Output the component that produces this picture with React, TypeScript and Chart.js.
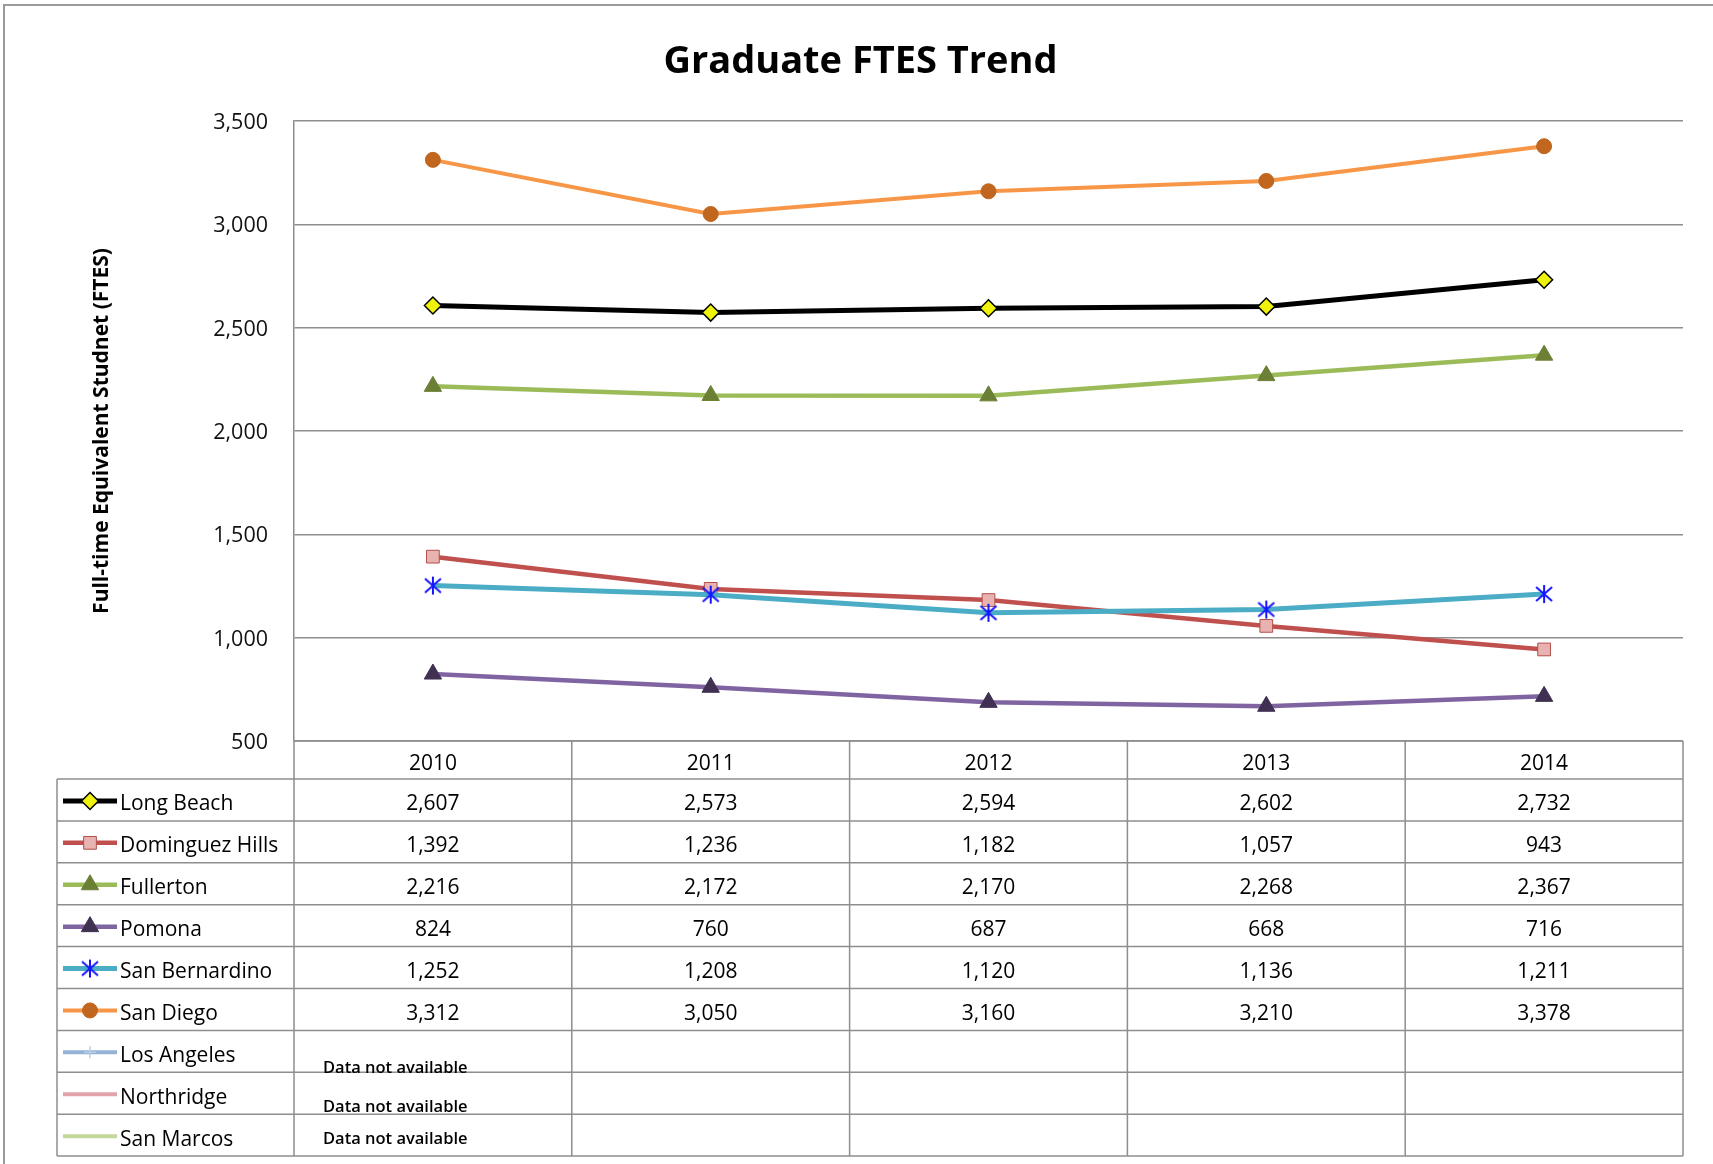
import React, { useEffect, useRef } from 'react';
import { Chart, registerables } from 'chart.js';
import * as helpers from 'chart.js/helpers';

Chart.register(...registerables);

// ---------------- data ----------------
const TITLE = 'Graduate FTES Trend';
const Y_TITLE = 'Full-time Equivalent Studnet (FTES)';
const YEARS = ['2010', '2011', '2012', '2013', '2014'];
const Y_MIN = 500;
const Y_MAX = 3500;
const Y_STEP = 500;

const LONG_BEACH = [2607, 2573, 2594, 2602, 2732];
const DOMINGUEZ_HILLS = [1392, 1236, 1182, 1057, 943];
const FULLERTON = [2216, 2172, 2170, 2268, 2367];
const POMONA = [824, 760, 687, 668, 716];
const SAN_BERNARDINO = [1252, 1208, 1120, 1136, 1211];
const SAN_DIEGO = [3312, 3050, 3160, 3210, 3378];
const LOS_ANGELES: (number | null)[] = [null, null, null, null, null];
const NORTHRIDGE: (number | null)[] = [null, null, null, null, null];
const SAN_MARCOS: (number | null)[] = [null, null, null, null, null];
const NOT_AVAILABLE = 'Data not available';

const SERIES_NAMES = [
  'Long Beach',
  'Dominguez Hills',
  'Fullerton',
  'Pomona',
  'San Bernardino',
  'San Diego',
  'Los Angeles',
  'Northridge',
  'San Marcos',
];
const SERIES_VALUES = [
  LONG_BEACH,
  DOMINGUEZ_HILLS,
  FULLERTON,
  POMONA,
  SAN_BERNARDINO,
  SAN_DIEGO,
  LOS_ANGELES,
  NORTHRIDGE,
  SAN_MARCOS,
];

// ---------------- layout & style ----------------
const W = 1713;
const H = 1164;
const FONT = 'Open Sans';
const GRID = '#8e8e8e';
const TEXT = '#000000';
const PAD_LEFT = 38;
const PLOT_LEFT = 294;
const PLOT_RIGHT = 1683;
const PLOT_BOTTOM = 741;
const TABLE_LEFT = 57;
const HEADER_H = 38;
const ROW_H = 41.9;
const SAMPLE_X0 = 63;
const SAMPLE_X1 = 117;
const SAMPLE_MARK_X = 90;
const LABEL_X = 120;
const NA_X = 323;
const NA_OFFSETS = [38, 35, 25]; // y offset of note within the row, rows without data

function makeStar(): HTMLCanvasElement {
  const c = document.createElement('canvas');
  c.width = 20;
  c.height = 20;
  const g = c.getContext('2d')!;
  g.strokeStyle = '#1515ff';
  g.lineWidth = 2;
  g.beginPath();
  g.moveTo(10, 1);
  g.lineTo(10, 19);
  g.moveTo(2, 3);
  g.lineTo(18, 17);
  g.moveTo(18, 3);
  g.lineTo(2, 17);
  g.stroke();
  return c;
}

function seriesStyles(star: HTMLCanvasElement) {
  return [
    { line: '#000000', width: 5, style: 'rectRot', radius: 8.5, fill: '#eef20c', stroke: '#000000', bw: 1.5 },
    { line: '#c0504d', width: 4.5, style: 'rect', radius: 9, fill: '#e8b2b0', stroke: '#b0504a', bw: 1 },
    { line: '#9bbb59', width: 4.5, style: 'triangle', radius: 10, fill: '#6b7f35', stroke: '#6b7f35', bw: 1 },
    { line: '#8064a2', width: 4.5, style: 'triangle', radius: 10, fill: '#403152', stroke: '#403152', bw: 1 },
    { line: '#4bacc6', width: 5, style: star as any, radius: 9, fill: '#1515ff', stroke: '#1515ff', bw: 2 },
    { line: '#f79646', width: 4, style: 'circle', radius: 7.5, fill: '#c0661f', stroke: '#c0661f', bw: 1 },
    { line: '#95b3d7', width: 4, style: 'cross', radius: 6, fill: '#b9cde5', stroke: '#b9cde5', bw: 1.5 },
    { line: '#e0a3a8', width: 4, style: 'circle', radius: 0, fill: '#e0a3a8', stroke: '#e0a3a8', bw: 0 },
    { line: '#c3d69b', width: 4, style: 'circle', radius: 0, fill: '#c3d69b', stroke: '#c3d69b', bw: 0 },
  ];
}

const fmt = (v: number | null) => (v == null ? '' : v.toLocaleString('en-US'));

const framePlugin = {
  id: 'frame',
  beforeDraw(chart: any) {
    const { ctx } = chart;
    ctx.save();
    ctx.fillStyle = '#ffffff';
    ctx.fillRect(0, 0, chart.width, chart.height);
    ctx.strokeStyle = '#9a9a9a';
    ctx.lineWidth = 2;
    ctx.beginPath();
    ctx.moveTo(4, H);
    ctx.lineTo(4, 5);
    ctx.lineTo(W, 5);
    ctx.stroke();
    ctx.restore();
  },
};

const tablePlugin = {
  id: 'dataTable',
  afterDraw(chart: any) {
    const { ctx, chartArea: ca } = chart;
    const xs = chart.scales.x;
    const n = YEARS.length;
    const centers = YEARS.map((_, i) => xs.getPixelForValue(i));
    const bounds = [ca.left];
    for (let i = 0; i < n - 1; i++) bounds.push((centers[i] + centers[i + 1]) / 2);
    bounds.push(ca.right);
    const datasets = chart.data.datasets;
    const headerTop = ca.bottom;
    const headerBottom = headerTop + HEADER_H;
    const tableBottom = headerBottom + datasets.length * ROW_H;

    ctx.save();
    ctx.strokeStyle = GRID;
    ctx.lineWidth = 1.5;
    ctx.beginPath();
    ctx.moveTo(ca.left, headerTop);
    ctx.lineTo(ca.right, headerTop);
    for (let r = 0; r <= datasets.length; r++) {
      const y = headerBottom + r * ROW_H;
      ctx.moveTo(TABLE_LEFT, y);
      ctx.lineTo(ca.right, y);
    }
    ctx.moveTo(TABLE_LEFT, headerBottom);
    ctx.lineTo(TABLE_LEFT, tableBottom);
    bounds.forEach((b: number) => {
      ctx.moveTo(b, headerTop);
      ctx.lineTo(b, tableBottom);
    });
    ctx.stroke();

    ctx.fillStyle = TEXT;
    ctx.font = `21px "${FONT}"`;
    ctx.textAlign = 'center';
    ctx.textBaseline = 'middle';
    YEARS.forEach((yr, i) => ctx.fillText(yr, centers[i], headerTop + HEADER_H / 2 + 4));

    let naIndex = 0;
    datasets.forEach((ds: any, r: number) => {
      const top = headerBottom + r * ROW_H;
      const cy = top + ROW_H / 2 + 1;
      // legend sample line
      ctx.strokeStyle = ds.borderColor;
      ctx.lineWidth = ds.borderWidth;
      ctx.beginPath();
      ctx.moveTo(SAMPLE_X0, cy);
      ctx.lineTo(SAMPLE_X1, cy);
      ctx.stroke();
      // legend marker
      ctx.fillStyle = ds.pointBackgroundColor;
      ctx.strokeStyle = ds.pointBorderColor;
      ctx.lineWidth = ds.pointBorderWidth;
      helpers.drawPoint(
        ctx,
        { pointStyle: ds.pointStyle, rotation: 0, radius: ds.pointRadius, borderWidth: ds.pointBorderWidth } as any,
        SAMPLE_MARK_X,
        cy
      );
      // label
      ctx.fillStyle = TEXT;
      ctx.font = `21px "${FONT}"`;
      ctx.textAlign = 'left';
      ctx.textBaseline = 'middle';
      ctx.fillText(ds.label, LABEL_X, cy + 3.5);
      // values
      ctx.textAlign = 'center';
      const hasData = ds.data.some((v: any) => v != null);
      ds.data.forEach((v: number | null, i: number) => {
        if (v != null) ctx.fillText(fmt(v), centers[i], cy + 3.5);
      });
      if (!hasData) {
        ctx.font = `600 16.5px "${FONT}"`;
        ctx.textAlign = 'left';
        ctx.fillText(NOT_AVAILABLE, NA_X, top + NA_OFFSETS[naIndex % NA_OFFSETS.length]);
        naIndex++;
      }
    });
    ctx.restore();
  },
};

export default function App() {
  const canvasRef = useRef<HTMLCanvasElement | null>(null);

  useEffect(() => {
    let chart: Chart | null = null;
    let cancelled = false;
    document.body.style.overflow = 'hidden';

    const build = () => {
      if (cancelled || !canvasRef.current) return;
      const styles = seriesStyles(makeStar());
      Chart.defaults.font.family = FONT;
      chart = new Chart(canvasRef.current, {
        type: 'line',
        data: {
          labels: YEARS,
          datasets: SERIES_NAMES.map((name, i) => ({
            label: name,
            data: SERIES_VALUES[i],
            borderColor: styles[i].line,
            backgroundColor: styles[i].line,
            borderWidth: styles[i].width,
            pointStyle: styles[i].style,
            pointRadius: styles[i].radius,
            pointBackgroundColor: styles[i].fill,
            pointBorderColor: styles[i].stroke,
            pointBorderWidth: styles[i].bw,
            tension: 0,
            order: SERIES_NAMES.length - i,
          })),
        },
        options: {
          responsive: false,
          animation: false,
          devicePixelRatio: 1,
          layout: { padding: { left: PAD_LEFT, right: W - PLOT_RIGHT, top: 0, bottom: 0 } },
          plugins: {
            legend: { display: false },
            tooltip: { enabled: false },
            title: {
              display: true,
              text: TITLE,
              color: '#000',
              font: { family: FONT, size: 38, weight: 'bold' },
              padding: { top: 39, bottom: 36.4 },
            },
          },
          scales: {
            x: {
              type: 'category',
              offset: true,
              grid: { display: false },
              border: { display: false },
              ticks: { display: false },
              afterFit: (scale: any) => {
                scale.height = H - PLOT_BOTTOM;
              },
            },
            y: {
              min: Y_MIN,
              max: Y_MAX,
              border: { display: true, color: GRID, width: 1.5 },
              grid: { color: GRID, lineWidth: 1.5, drawTicks: false },
              ticks: {
                stepSize: Y_STEP,
                padding: 26,
                labelOffset: 2,
                color: '#111',
                font: { family: FONT, size: 21.5 },
                callback: (v: any) => Number(v).toLocaleString('en-US'),
              },
              title: {
                display: true,
                text: Y_TITLE,
                color: '#000',
                font: { family: FONT, size: 21, weight: 'bold' },
                padding: { top: 102 - PAD_LEFT - 12.6, bottom: 0 },
              },
              afterFit: (scale: any) => {
                scale.width = PLOT_LEFT - PAD_LEFT;
              },
            },
          },
        } as any,
        plugins: [framePlugin, tablePlugin],
      });
    };

    const fonts = (document as any).fonts;
    if (fonts && fonts.load) {
      Promise.all([
        fonts.load(`21px "${FONT}"`),
        fonts.load(`bold 38px "${FONT}"`),
        fonts.load(`600 16px "${FONT}"`),
      ])
        .catch(() => undefined)
        .then(build);
    } else {
      build();
    }

    return () => {
      cancelled = true;
      if (chart) chart.destroy();
    };
  }, []);

  return (
    <div style={{ position: 'absolute', left: 0, top: 0, width: W, height: H, background: '#fff' }}>
      <canvas ref={canvasRef} width={W} height={H} style={{ display: 'block', width: W, height: H }} />
    </div>
  );
}
